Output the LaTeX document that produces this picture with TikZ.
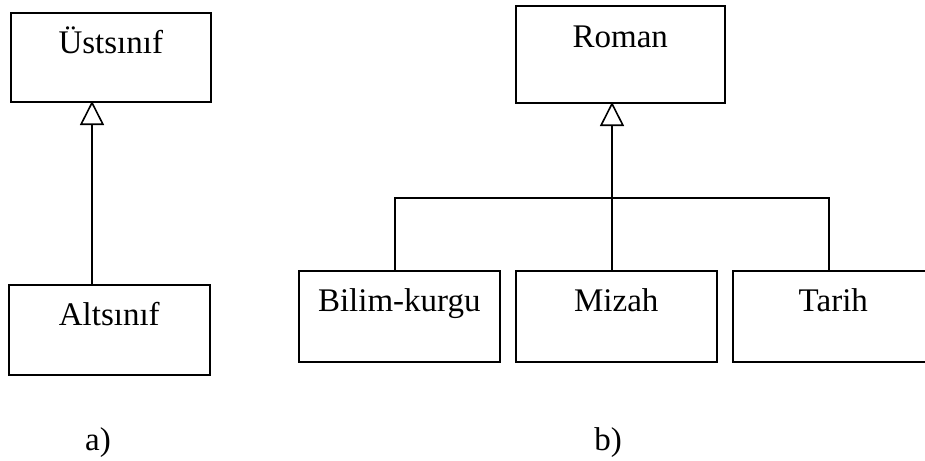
\documentclass[tikz,border=0pt]{standalone}
\usepackage{fontspec}
\setmainfont{Liberation Serif}
\usetikzlibrary{arrows.meta}

\begin{document}
\begin{tikzpicture}[x=1pt, y=-1pt,
  every node/.style={font=\fontsize{33}{40}\selectfont},
  classbox/.style={draw, line width=1.6pt, inner sep=0pt, align=center,
    text width=#1pt, minimum width=#1pt, text height=41pt},
  classbox/.default=201,
  link/.style={line width=1.6pt},
  inherit/.style={link, -{Triangle[open, width=24pt, length=24pt, line width=1.6pt]}},
  caption/.style={inner sep=0pt, anchor=base}]
  \useasboundingbox (0,0) rectangle (925,460);

  % (a) one subclass of one superclass
  \node[classbox=200, text depth=48pt, anchor=north west] (ust) at (10,12) {Üstsınıf};
  \node[classbox, text depth=49pt, anchor=north west] (alt) at (8,284) {Altsınıf};
  \coordinate (ustin) at (92,101);
  \coordinate (altout) at (92,284);
  \draw[inherit] (altout) -- (ustin);
  \node[caption] (capa) at (98,450) {a)};

  % (b) three kinds of novel share one generalisation arrow
  \node[classbox=209, text height=42pt, text depth=55pt, anchor=north west] (roman) at (515,5) {Roman};
  \node[classbox, text depth=50pt, anchor=north west] (bilim) at (298,270) {Bilim-kurgu};
  \node[classbox, text depth=50pt, anchor=north west] (mizah) at (515,270) {Mizah};
  \node[classbox, text depth=50pt, anchor=north west] (tarih) at (732,270) {Tarih};

  \coordinate (romanin) at (612,102);
  \coordinate (bus) at (612,198);
  \coordinate (bilimout) at (395,270);
  \coordinate (mizahout) at (612,270);
  \coordinate (tarihout) at (829,270);
  \draw[link] (bilimout) |- (bus) -| (tarihout);
  \draw[link] (mizahout) -- (bus);
  \draw[inherit] (bus) -- (romanin);
  \node[caption] (capb) at (608,450) {b)};
\end{tikzpicture}
\end{document}
